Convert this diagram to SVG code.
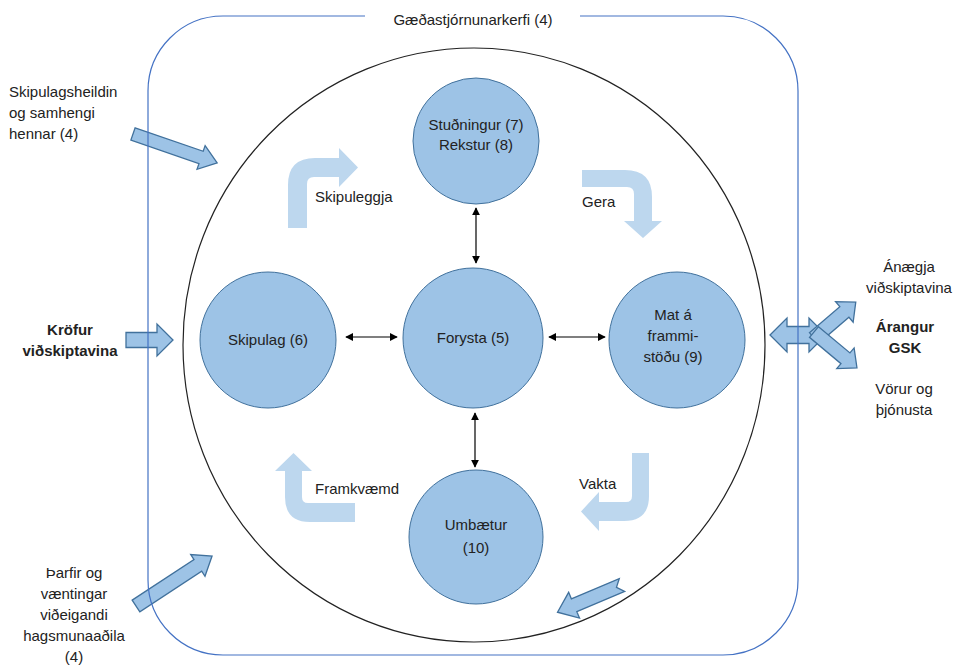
<svg xmlns="http://www.w3.org/2000/svg" width="957" height="666" viewBox="0 0 957 666">
<defs>
<marker id="ah" viewBox="0 0 10 10" refX="9" refY="5" markerWidth="8" markerHeight="8" markerUnits="userSpaceOnUse" orient="auto-start-reverse">
<path d="M0,0 L10,5 L0,10 Z" fill="#000"/>
</marker>
</defs>
<style>
text{font-family:"Liberation Sans",Arial,sans-serif;font-size:15px;fill:#222}
.b{font-weight:bold}
.c{text-anchor:middle}
.node{fill:#9DC3E6;stroke:#41719C;stroke-width:1}
.blk{fill:#9DC3E6;stroke:#41719C;stroke-width:1.3;stroke-linejoin:miter}
.lt{fill:#BDD7EE;stroke:none}
.con{stroke:#000;stroke-width:1.2;fill:none;marker-start:url(#ah);marker-end:url(#ah)}
</style>
<rect width="957" height="666" fill="#fff"/>
<ellipse id="cycle" cx="474" cy="345" rx="291" ry="297" fill="none" stroke="#222" stroke-width="1.2"/>

<g id="bent-arrows">
<path class="lt" d="M288,228 L288,185 Q288,158 315,158 L339,158 L339,148 L358,167.5 L339,187 L339,177 L314,177 Q307,177 307,184 L307,228 Z"/>
<path class="lt" d="M582,170 L625,170 Q652,170 652,197 L652,221 L662,221 L643,238 L624,221 L634,221 L634,194 Q634,187 627,187 L582,187 Z"/>
<path class="lt" d="M649,453 L649,496 Q649,521 624,521 L599,521 L599,531 L581,511.5 L599,492 L599,502 L626,502 Q632,502 632,496 L632,453 Z"/>
<path class="lt" d="M355,522 L310,522 Q285,522 285,497 L285,471 L275,471 L293.5,453 L312,471 L302,471 L302,497 Q302,503 308,503 L355,503 Z"/>
</g>
<text x="315" y="202">Skipuleggja</text>
<text x="582" y="207">Gera</text>
<text x="579" y="489">Vakta</text>
<text x="315" y="494">Framkvæmd</text>

<g id="connectors">
<line class="con" x1="476" y1="208" x2="476" y2="263"/>
<line class="con" x1="475" y1="413" x2="475" y2="467"/>
<line class="con" x1="346" y1="337" x2="397" y2="337"/>
<line class="con" x1="549" y1="337" x2="605" y2="337"/>
</g>

<g id="n-top">
<circle class="node" cx="476" cy="141" r="63"/>
<text class="c" x="476" y="130">Stuðningur (7)</text>
<text class="c" x="476" y="150">Rekstur (8)</text>
</g>
<g id="n-center">
<circle class="node" cx="473" cy="338" r="70"/>
<text class="c" x="473" y="343">Forysta (5)</text>
</g>
<g id="n-left">
<circle class="node" cx="268" cy="340" r="68"/>
<text class="c" x="268" y="345">Skipulag (6)</text>
</g>
<g id="n-right">
<circle class="node" cx="677" cy="340" r="68"/>
<text class="c" x="673" y="320">Mat á</text>
<text class="c" x="673" y="341">frammi-</text>
<text class="c" x="673" y="362">stöðu (9)</text>
</g>
<g id="n-bottom">
<circle class="node" cx="476" cy="537" r="67"/>
<text class="c" x="476" y="530">Umbætur</text>
<text class="c" x="476" y="553">(10)</text>
</g>

<g id="block-arrows">
<polygon class="blk" transform="translate(133,134) rotate(19)" points="0,-6.5 72,-6.5 72,-12.5 89,0 72,12.5 72,6.5 0,6.5"/>
<polygon class="blk" points="126,332.5 157,332.5 157,324 173,340 157,356 157,347.5 126,347.5"/>
<polygon class="blk" transform="translate(136,606) rotate(-33.3)" points="0,-7 74,-7 74,-13 91,0 74,13 74,7 0,7"/>
<polygon class="blk" transform="translate(622,585) rotate(157.1)" points="0,-7 52,-7 52,-14 70,0 52,14 52,7 0,7 6,0"/>
<polygon class="blk" points="770,335 787,318 787,326.5 809,326.5 809,318 826,335 809,352 809,343.5 787,343.5 787,352"/>
<polygon class="blk" transform="translate(814,338) rotate(-40.6)" points="0,-7 40,-7 40,-13.5 55,0 40,13.5 40,7 0,7"/>
<polygon class="blk" transform="translate(814,332) rotate(39.9)" points="0,-7 41,-7 41,-13.5 56,0 41,13.5 41,7 0,7"/>
</g>

<g id="system">
<path d="M580,16 H723 A75,75 0 0 1 798,91 V580 A75,75 0 0 1 723,655 H223 A75,75 0 0 1 148,580 V91 A75,75 0 0 1 223,16 H365" fill="none" stroke="#4472C4" stroke-width="1.2"/>
<text class="c" x="473" y="25">Gæðastjórnunarkerfi (4)</text>
</g>

<g id="inputs">
<text x="9" y="97">Skipulagsheildin</text>
<text x="9" y="118">og samhengi</text>
<text x="9" y="139">hennar (4)</text>
<text class="c b" x="70" y="335">Kröfur</text>
<text class="c b" x="70" y="356">viðskiptavina</text>
<text class="c" x="74" y="578">Þarfir og</text>
<text class="c" x="74" y="599">væntingar</text>
<text class="c" x="74" y="620">viðeigandi</text>
<text class="c" x="74" y="641">hagsmunaaðila</text>
<text class="c" x="74" y="662">(4)</text>
</g>

<g id="outputs">
<text class="c" x="909" y="272">Ánægja</text>
<text class="c" x="909" y="293">viðskiptavina</text>
<text class="c b" x="905" y="332">Árangur</text>
<text class="c b" x="905" y="353">GSK</text>
<text class="c" x="904" y="394">Vörur og</text>
<text class="c" x="904" y="415">þjónusta</text>
</g>
</svg>
